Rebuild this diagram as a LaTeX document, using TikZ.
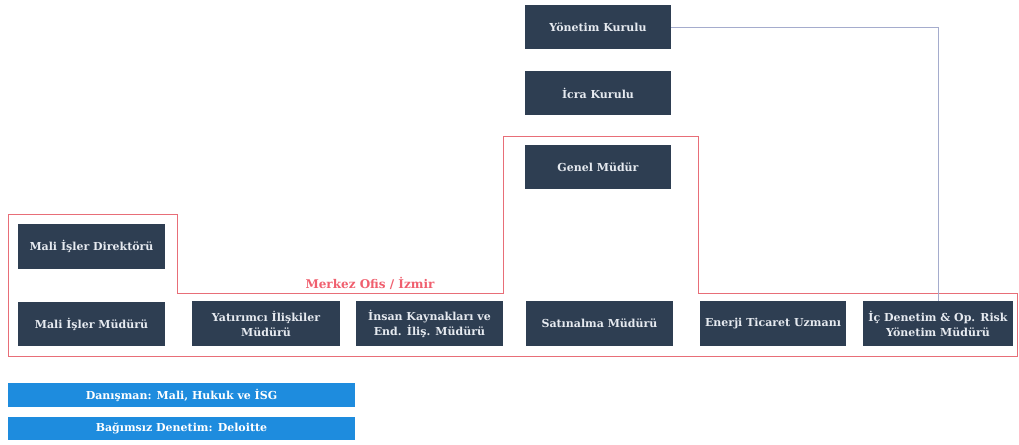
\documentclass[tikz,border=0pt]{standalone}
\usepackage{fontspec}
\setmainfont{DejaVu Serif}
\definecolor{boxfill}{RGB}{46,62,82}
\definecolor{boxtext}{RGB}{230,234,240}
\definecolor{regionred}{RGB}{232,110,120}
\definecolor{labelred}{RGB}{240,95,110}
\definecolor{connblue}{RGB}{165,172,205}
\definecolor{barblue}{RGB}{30,140,222}
\tikzset{
  orgbox/.style={draw=none, fill=boxfill, text=boxtext, font=\fontsize{11}{15}\selectfont\bfseries,
    align=center, inner sep=1pt, minimum height=44pt},
  barbox/.style={draw=none, fill=barblue, text=white, font=\fontsize{11}{13}\selectfont\bfseries,
    minimum width=347pt, inner sep=0pt},
  conn/.style={draw=connblue, line width=1pt},
  region/.style={draw=regionred, line width=0.8pt}
}
\begin{document}
\begin{tikzpicture}[x=1pt,y=-1pt]
\useasboundingbox (0,0) rectangle (1019,444);
\fill[white] (0,0) rectangle (1019,444);

% region outline
\draw[region] (8,214) -- (177,214) -- (177,293) -- (503,293) -- (503,136) -- (698,136)
  -- (698,293) -- (1017,293) -- (1017,356) -- (8,356) -- cycle;
\node[text=labelred, font=\fontsize{12}{14}\selectfont\bfseries] (mo) at (370,283) {Merkez Ofis / İzmir};

% boxes
\node[orgbox, minimum width=146pt] (yk) at (598,27.5) {Yönetim Kurulu};
\node[orgbox, minimum width=146pt] (ik) at (598,93) {İcra Kurulu};
\node[orgbox, minimum width=146pt] (gm) at (598,167) {Genel Müdür};
\node[orgbox, minimum width=147pt, minimum height=45pt] (mid) at (91.5,246.5) {Mali İşler Direktörü};
\node[orgbox, minimum width=147pt] (mim) at (91.5,324) {Mali İşler Müdürü};
\node[orgbox, minimum width=148pt, minimum height=45pt] (yim) at (266,323.5) {Yatırımcı İlişkiler\\Müdürü};
\node[orgbox, minimum width=147pt, minimum height=45pt] (ikm) at (429.5,323.5) {İnsan Kaynakları ve\\End. İliş. Müdürü};
\node[orgbox, minimum width=147pt, minimum height=45pt] (sm) at (599.5,323.5) {Satınalma Müdürü};
\node[orgbox, minimum width=146pt, minimum height=45pt] (etu) at (773,323.5) {Enerji Ticaret Uzmanı};
\node[orgbox, minimum width=150pt, minimum height=45pt] (idm) at (938,323.5) {İç Denetim \& Op. Risk\\Yönetim Müdürü};

% connector
\draw[conn] (yk.east) -| (idm.north);

% bars
\node[barbox, minimum height=24pt] (b1) at (181.5,395) {Danışman: Mali, Hukuk ve İSG};
\node[barbox, minimum height=23pt] (b2) at (181.5,428.5) {Bağımsız Denetim: Deloitte};
\end{tikzpicture}
\end{document}
